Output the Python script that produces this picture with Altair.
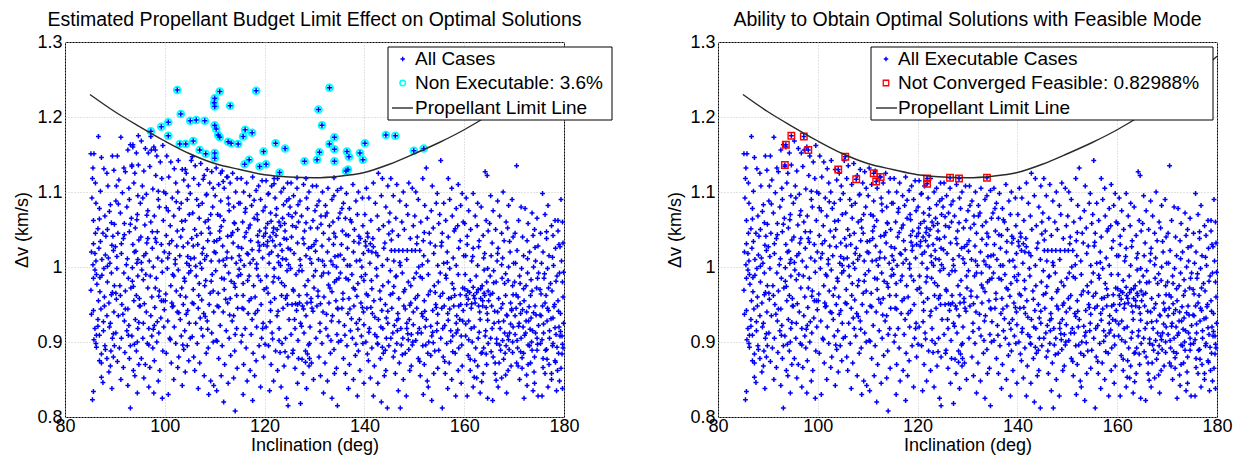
import altair as alt
import pandas as pd

# ---- data: flat lists of (inclination*10, dv*1000) pairs ----
S085 = [852,1151, 858,1151, 856,1132, 861,1112, 855,1118, 867,1174, 873,1146, 878,1131, 884,1125, 886,1108, 895,1148, 898,1129,
        854,1092, 862,1085, 869,1078, 871,1101, 880,1068, 889,1074, 893,1059, 857,1062, 866,1051, 876,1045, 885,1050, 896,1041,
        857,1031, 853,1020, 860,1018, 868,1025, 862,1008, 874,1010, 881,1016, 890,1005, 897,1022,
        860,996, 863,990, 857,985, 870,986, 878,998, 885,980, 893,992, 899,975,
        870,967, 867,955, 879,960, 888,952, 895,966, 857,942, 853,937, 872,944, 866,930, 884,935, 891,925, 898,940,
        860,918, 863,909, 869,909, 877,915, 889,920, 895,905,
        862,898, 863,893, 880,895, 881,890, 892,888, 899,895,
        869,875, 873,872, 884,878, 891,868, 897,880,
        873,853, 876,846, 888,860, 857,834, 855,823, 894,838]
S090 = [905,1148, 912,1173, 918,1132, 926,1156, 931,1163, 936,1160, 943,1152, 947,1136, 921,1127, 934,1134, 940,1125, 908,1116,
        903,1108, 915,1099, 928,1105, 938,1112, 946,1095, 902,1088, 911,1072, 924,1080, 933,1065, 945,1070, 919,1058, 941,1052,
        906,1045, 917,1038, 929,1047, 936,1030, 948,1036, 901,1027, 913,1018, 925,1011, 939,1020, 944,1005,
        904,998, 918,992, 927,985, 935,999, 946,988, 910,975, 921,968, 932,972, 943,962,
        903,957, 914,950, 926,944, 938,955, 949,948, 907,935, 919,928, 928,922, 941,930, 946,918,
        902,912, 913,905, 924,915, 934,908, 945,900, 909,892, 920,886, 931,895, 943,888,
        905,874, 917,866, 929,878, 937,862, 948,870, 912,850, 926,842, 940,855, 931,812, 945,832]
S095 = [953,1168, 961,1158, 967,1152, 973,1156, 978,1160, 984,1148, 991,1140, 996,1162, 958,1128, 970,1134, 982,1122, 994,1118,
        955,1108, 963,1097, 976,1104, 987,1090, 998,1100, 951,1085, 966,1075, 979,1068, 989,1080, 997,1062, 960,1056, 972,1060, 985,1047,
        952,1040, 964,1032, 975,1025, 981,1038, 993,1030, 958,1015, 969,1008, 986,1012, 999,1020,
        954,996, 962,990, 977,1000, 983,985, 995,993, 966,972, 974,960, 989,968, 997,955,
        951,948, 963,940, 972,935, 980,946, 992,932, 957,925, 968,918, 979,922, 988,912, 998,920,
        956,905, 965,898, 976,892, 984,900, 996,888,
        953,878, 961,870, 970,866, 979,875, 990,862, 958,852, 968,840, 978,832, 987,848, 995,825]
S100 = [1004,1148, 1012,1140, 1019,1131, 1027,1142, 1035,1130, 1043,1125, 1008,1120, 1022,1112, 1038,1116, 1047,1108,
        1002,1098, 1015,1092, 1026,1100, 1033,1085, 1045,1090, 1007,1075, 1018,1068, 1029,1078, 1041,1062, 1049,1070, 1011,1055, 1036,1050,
        1003,1042, 1014,1035, 1024,1028, 1032,1040, 1046,1032, 1009,1018, 1021,1010, 1030,1015, 1044,1005,
        1005,998, 1016,990, 1027,996, 1039,985, 1048,992, 1012,975, 1023,968, 1034,972, 1042,960,
        1001,955, 1017,948, 1025,940, 1037,950, 1046,942, 1006,928, 1019,920, 1031,930, 1040,915, 1049,925,
        1010,905, 1022,898, 1033,908, 1045,895, 1003,885, 1028,880, 1038,890,
        1013,872, 1026,866, 1041,860, 1048,875, 1018,850, 1035,842, 1007,830]
S105 = [1053,1142, 1061,1135, 1072,1138, 1085,1130, 1094,1127, 1058,1118, 1068,1110, 1079,1122, 1090,1112, 1097,1105,
        1051,1098, 1064,1090, 1075,1085, 1083,1096, 1096,1080, 1056,1072, 1069,1065, 1081,1060, 1092,1070, 1060,1050, 1073,1045, 1088,1052,
        1054,1038, 1066,1030, 1077,1025, 1086,1035, 1099,1020, 1059,1012, 1071,1005, 1084,1015, 1093,1008,
        1052,995, 1063,988, 1074,998, 1082,982, 1095,990, 1057,970, 1068,962, 1080,975, 1091,965,
        1055,952, 1067,945, 1078,938, 1089,950, 1098,940, 1062,925, 1073,918, 1085,928, 1094,912,
        1051,905, 1065,898, 1076,908, 1087,892, 1097,900, 1058,880, 1070,872, 1083,885,
        1060,862, 1079,855, 1092,848, 1067,838, 1088,830, 1098,842]
S110 = [1103,1132, 1115,1128, 1124,1120, 1136,1125, 1145,1118, 1108,1110, 1119,1105, 1131,1112, 1142,1100,
        1101,1095, 1112,1088, 1127,1092, 1138,1080, 1148,1085, 1106,1070, 1118,1062, 1129,1075, 1140,1058, 1110,1048, 1133,1042, 1146,1050,
        1104,1035, 1116,1028, 1125,1020, 1137,1032, 1149,1015, 1109,1008, 1121,1002, 1134,1012, 1143,1005,
        1102,995, 1114,985, 1128,992, 1139,978, 1147,988, 1107,965, 1119,970, 1131,958, 1144,962,
        1105,948, 1117,940, 1126,952, 1138,935, 1146,945, 1111,922, 1123,915, 1135,928, 1141,910,
        1103,902, 1115,895, 1129,905, 1140,888, 1108,878, 1120,870, 1132,882, 1145,865,
        1113,855, 1127,845, 1138,852, 1118,820, 1141,808, 1104,835]
S115 = [1153,1118, 1164,1112, 1176,1120, 1188,1108, 1195,1115, 1158,1100, 1170,1095, 1183,1102, 1192,1090,
        1151,1085, 1162,1078, 1174,1082, 1185,1070, 1197,1075, 1156,1060, 1168,1052, 1179,1065, 1190,1048, 1160,1040, 1172,1035, 1186,1042, 1198,1030,
        1154,1025, 1165,1018, 1177,1010, 1189,1022, 1196,1012, 1159,1002, 1171,1005, 1184,998,
        1152,990, 1166,982, 1178,975, 1187,988, 1199,970, 1157,962, 1169,955, 1181,960, 1193,950,
        1155,945, 1167,938, 1175,930, 1186,942, 1197,925, 1161,918, 1173,910, 1184,920, 1194,905,
        1153,900, 1163,892, 1177,885, 1189,895, 1198,880, 1158,870, 1171,862, 1183,875,
        1165,848, 1180,855, 1192,840, 1157,830, 1176,822]
S120 = [1203,1115, 1214,1108, 1226,1118, 1238,1105, 1246,1112, 1208,1098, 1221,1092, 1233,1100, 1244,1088,
        1201,1080, 1212,1072, 1224,1078, 1236,1065, 1248,1070, 1206,1058, 1218,1052, 1229,1060, 1241,1048,
        1202,1045, 1211,1040, 1216,1035, 1223,1042, 1231,1030, 1239,1038, 1247,1025, 1205,1028, 1214,1020, 1227,1015, 1235,1022, 1243,1010,
        1209,1005, 1219,998, 1232,1002, 1245,995, 1204,988, 1217,980, 1228,985, 1240,975,
        1207,965, 1220,958, 1234,962, 1246,950, 1212,942, 1225,935, 1237,945, 1249,930,
        1203,920, 1215,912, 1229,918, 1242,905, 1208,895, 1222,888, 1235,898, 1247,880,
        1213,870, 1226,862, 1239,868, 1218,848, 1233,840, 1244,825, 1210,835, 1247,815]
S125 = [1253,1112, 1265,1105, 1278,1110, 1289,1100, 1296,1108, 1258,1095, 1271,1088, 1284,1092,
        1251,1080, 1262,1072, 1274,1068, 1286,1078, 1297,1062, 1256,1055, 1268,1060, 1280,1048, 1292,1052,
        1254,1040, 1266,1032, 1277,1038, 1288,1025, 1299,1030, 1259,1018, 1271,1010, 1283,1015, 1294,1005,
        1252,998, 1263,990, 1275,995, 1287,982, 1298,988, 1257,970, 1269,962, 1281,975, 1293,958,
        1255,950, 1264,942, 1276,948, 1285,952, 1295,945, 1260,930, 1272,925, 1283,935, 1291,920,
        1253,910, 1267,902, 1279,912, 1290,898, 1256,885, 1268,878, 1282,888, 1294,872,
        1261,865, 1277,858, 1289,868, 1266,845, 1284,838, 1298,850, 1272,818]
S130 = [1304,1108, 1316,1100, 1327,1105, 1339,1095, 1346,1102, 1309,1088, 1322,1082, 1335,1090,
        1301,1075, 1313,1068, 1325,1072, 1337,1060, 1348,1065, 1306,1052, 1318,1045, 1330,1055, 1342,1040,
        1303,1035, 1315,1028, 1326,1020, 1338,1030, 1347,1015, 1308,1010, 1320,1002, 1333,1008, 1344,1000,
        1302,995, 1314,988, 1328,992, 1340,980, 1349,985, 1307,968, 1319,960, 1331,972, 1343,955,
        1305,948, 1317,940, 1329,952, 1336,935, 1346,945, 1311,925, 1323,918, 1334,928, 1345,910,
        1303,905, 1315,898, 1327,908, 1339,890, 1348,900, 1309,880, 1321,872, 1332,885, 1344,865,
        1312,855, 1326,848, 1340,858, 1318,832, 1335,825, 1346,815]
S135 = [1353,1105, 1364,1098, 1377,1110, 1388,1100, 1396,1092, 1358,1085, 1370,1078, 1383,1088,
        1351,1072, 1362,1065, 1374,1060, 1386,1070, 1397,1055, 1356,1048, 1368,1042, 1380,1050, 1392,1038,
        1354,1030, 1366,1025, 1378,1020, 1389,1032, 1398,1018, 1359,1010, 1371,1002, 1384,1008, 1395,1000,
        1352,992, 1363,985, 1375,990, 1387,978, 1399,982, 1357,965, 1369,958, 1381,970, 1393,952,
        1355,945, 1367,938, 1379,948, 1390,930, 1398,940, 1360,922, 1372,915, 1384,925, 1394,908,
        1353,902, 1365,895, 1376,905, 1388,888, 1397,898, 1358,878, 1370,870, 1382,882,
        1362,858, 1378,850, 1391,862, 1368,838, 1386,828, 1399,845]
S140 = [1404,1105, 1418,1112, 1428,1125, 1436,1118, 1447,1108, 1409,1092, 1422,1085, 1434,1095, 1443,1080,
        1401,1070, 1413,1062, 1426,1068, 1438,1055, 1449,1060, 1406,1045, 1417,1038, 1429,1050, 1441,1032,
        1403,1028, 1408,1022, 1415,1020, 1427,1015, 1439,1025, 1446,1010, 1411,1005, 1424,998, 1436,1002,
        1402,990, 1414,982, 1425,988, 1437,975, 1448,980, 1407,962, 1419,955, 1431,968, 1442,950,
        1405,945, 1416,938, 1428,930, 1435,942, 1447,925, 1410,918, 1421,910, 1433,920, 1444,905,
        1403,900, 1415,892, 1426,898, 1438,885, 1449,895, 1408,875, 1420,868, 1432,878, 1443,862,
        1412,852, 1427,845, 1440,855, 1418,828, 1434,820, 1446,812]
S145 = [1453,1118, 1465,1110, 1478,1100, 1489,1112, 1496,1105, 1458,1095, 1471,1088, 1484,1082,
        1451,1072, 1463,1065, 1475,1060, 1487,1070, 1498,1055, 1456,1048, 1468,1042, 1480,1050, 1492,1038,
        1454,1022, 1461,1022, 1469,1022, 1477,1022, 1486,1022, 1495,1022, 1459,1008, 1472,1002, 1485,1010,
        1452,995, 1464,988, 1476,992, 1488,980, 1499,985, 1457,965, 1469,958, 1481,970, 1493,952,
        1455,945, 1467,938, 1479,948, 1490,930, 1498,940, 1460,922, 1466,915, 1473,918, 1485,925, 1494,910,
        1453,905, 1465,898, 1477,905, 1489,890, 1497,900, 1458,880, 1470,872, 1482,885, 1494,868,
        1462,858, 1478,850, 1491,862, 1468,835, 1484,828, 1472,812]
S150 = [1503,1100, 1517,1118, 1524,1132, 1536,1108, 1546,1098, 1508,1090, 1521,1082, 1534,1075, 1544,1085,
        1501,1068, 1513,1060, 1526,1065, 1538,1052, 1549,1058, 1506,1040, 1518,1035, 1530,1045, 1542,1028,
        1502,1022, 1511,1022, 1519,1015, 1527,1008, 1539,1018, 1547,1002, 1509,1000,
        1504,992, 1516,985, 1528,990, 1540,975, 1548,980, 1507,962, 1520,955, 1532,968, 1543,950,
        1505,945, 1515,938, 1524,930, 1537,942, 1546,925, 1510,918, 1514,912, 1522,920, 1535,908, 1545,915,
        1503,902, 1517,895, 1529,900, 1541,888, 1508,878, 1520,870, 1533,882, 1547,865,
        1512,855, 1526,848, 1539,858, 1518,830, 1535,822, 1528,840]
S155 = [1553,1142, 1568,1118, 1575,1105, 1588,1110, 1596,1098, 1559,1085, 1571,1090, 1584,1078, 1593,1082,
        1551,1070, 1563,1062, 1576,1068, 1587,1055, 1598,1060, 1556,1045, 1568,1040, 1580,1048, 1592,1035,
        1554,1028, 1566,1020, 1578,1012, 1589,1025, 1599,1015, 1559,1005, 1571,998, 1584,1002,
        1552,992, 1564,985, 1576,978, 1588,990, 1597,972, 1557,965, 1569,958, 1581,962, 1593,950,
        1555,945, 1567,938, 1579,948, 1585,935, 1591,930, 1598,942, 1561,922, 1573,915, 1584,925, 1594,908,
        1553,905, 1565,898, 1577,908, 1589,892, 1558,880, 1570,872, 1582,885, 1596,868,
        1562,858, 1575,850, 1588,862, 1567,838, 1583,828, 1556,812, 1594,845]
S160 = [1604,1092, 1618,1098, 1627,1085, 1642,1127, 1646,1122, 1609,1075, 1622,1068, 1634,1080, 1644,1062,
        1601,1058, 1613,1050, 1626,1055, 1638,1042, 1648,1048, 1606,1030, 1618,1025, 1630,1035, 1641,1018,
        1603,1015, 1615,1008, 1627,1002, 1639,1012, 1647,998,
        1602,990, 1612,982, 1624,988, 1636,975, 1645,980, 1607,968, 1619,962, 1628,970, 1633,958, 1640,965, 1649,955,
        1605,950, 1614,945, 1622,952, 1631,940, 1637,948, 1646,938, 1609,928, 1620,920, 1632,930, 1643,915,
        1603,908, 1616,900, 1628,905, 1639,892, 1648,898, 1608,882, 1621,875, 1634,885, 1645,870,
        1612,862, 1625,852, 1638,858, 1618,840, 1632,832, 1647,825, 1606,828]
S165 = [1653,1095, 1667,1088, 1678,1100, 1689,1082, 1696,1090, 1658,1075, 1671,1068, 1684,1060,
        1651,1058, 1663,1050, 1675,1045, 1687,1052, 1698,1040, 1656,1032, 1668,1025, 1680,1035, 1692,1020,
        1654,1015, 1666,1008, 1677,1012, 1689,1000, 1699,1005, 1659,995,
        1652,988, 1664,980, 1676,985, 1681,978, 1688,982, 1697,975, 1657,965, 1669,958, 1683,962, 1693,952,
        1655,948, 1667,940, 1674,945, 1686,935, 1695,942, 1660,925, 1672,918, 1679,928, 1691,912, 1698,920,
        1653,905, 1665,898, 1677,902, 1684,895, 1690,890, 1697,900, 1658,880, 1670,872, 1682,885, 1694,868,
        1662,858, 1675,852, 1688,862, 1668,840, 1685,832, 1657,822]
S170 = [1705,1135, 1714,1080, 1722,1078, 1736,1072, 1746,1065, 1709,1062, 1728,1058, 1741,1050,
        1702,1045, 1717,1040, 1726,1035, 1738,1042, 1748,1028, 1706,1022, 1719,1015, 1731,1020, 1743,1008,
        1703,1005, 1715,998, 1727,992, 1739,1000, 1747,985,
        1701,980, 1712,978, 1724,975, 1736,968, 1745,972, 1708,960, 1720,955, 1733,962, 1742,948,
        1704,945, 1713,938, 1725,940, 1734,932, 1744,936, 1710,925, 1718,920, 1729,928, 1737,915, 1749,922,
        1702,910, 1714,905, 1723,912, 1735,900, 1746,905, 1707,892, 1719,885, 1731,895, 1741,880,
        1705,872, 1716,865, 1728,870, 1740,860, 1711,850, 1726,842, 1738,835, 1748,828, 1720,825]
S175 = [1757,1098, 1768,1082, 1782,1062, 1794,1090, 1797,1060, 1762,1070, 1775,1055, 1788,1048,
        1753,1045, 1765,1038, 1778,1042, 1790,1030, 1798,1032, 1758,1020, 1770,1015, 1783,1025, 1795,1008,
        1755,1005, 1767,998, 1779,1002, 1791,992, 1760,985, 1773,978, 1786,988, 1797,980,
        1752,970, 1764,962, 1776,968, 1788,955, 1798,960, 1757,948, 1769,942, 1781,950, 1793,938,
        1754,935, 1766,928, 1778,932, 1790,920, 1799,925, 1759,912, 1771,905, 1784,910, 1796,908, 1792,908,
        1753,898, 1765,890, 1777,895, 1789,885, 1798,892, 1758,878, 1770,870, 1782,875, 1794,865,
        1762,858, 1775,850, 1787,862, 1768,840, 1785,835, 1797,838, 1756,828]

# further cases seen in the denser middle band
EXTRA_A = [856,1003, 864,977, 871,1034, 879,948, 887,1012, 893,963, 899,1057, 858,903, 866,921, 874,989, 882,1041, 891,1083, 897,911, 852,969, 869,1064, 877,927, 885,1001, 894,1029, 861,1045, 873,884,
           904,1014, 911,962, 919,1043, 927,909, 935,981, 942,1021, 949,958, 907,1084, 916,937, 923,1003, 931,1057, 939,897, 946,1010, 902,965, 913,1031, 921,944, 929,1090, 937,974, 944,1063, 948,926,
           953,1006, 959,951, 964,1069, 971,988, 977,917, 983,1033, 988,961, 994,1008, 999,943, 956,1092, 962,1018, 968,896, 975,1047, 981,972, 987,1101, 993,955, 957,983, 966,1038, 974,908, 985,927,
           1002,964, 1009,1031, 1015,947, 1021,1004, 1028,939, 1034,1061, 1040,981, 1046,1014, 1003,1079, 1011,903, 1018,988, 1025,1048, 1031,962, 1037,1027, 1043,937, 1049,1002, 1006,1012, 1014,952, 1023,1087, 1036,896,
           1052,1011, 1058,951, 1064,1042, 1069,978, 1075,1018, 1081,934, 1087,1063, 1093,981, 1099,1034, 1055,907, 1062,1001, 1068,1082, 1074,956, 1080,1010, 1086,917, 1091,1045, 1097,968, 1057,1028, 1071,932, 1084,1097,
           1102,1019, 1108,947, 1113,1054, 1119,984, 1124,1012, 1130,936, 1136,1046, 1141,973, 1147,1027, 1105,901, 1111,1068, 1117,1009, 1122,957, 1128,1084, 1133,981, 1139,1059, 1144,918, 1149,997, 1110,1038, 1126,1041,
           1152,1009, 1158,944, 1163,1046, 1169,988, 1175,1023, 1181,938, 1186,1063, 1192,982, 1198,1041, 1155,909, 1161,1073, 1167,1017, 1173,958, 1179,1089, 1184,1004, 1190,1028, 1196,918, 1157,978, 1171,1056, 1187,1033]
EXTRA_B = [1202,1052, 1206,1034, 1209,1017, 1213,1061, 1217,1046, 1221,1028, 1225,1050, 1228,1006, 1232,1055, 1236,1011, 1240,1058, 1244,1037, 1248,1003, 1204,972, 1212,953, 1219,987, 1227,941, 1234,979, 1242,958, 1249,1091,
           1201,897, 1216,904, 1231,886, 1238,1083, 1207,1097, 1223,1069, 1245,962, 1211,927, 1229,902, 1241,887,
           1252,1023, 1258,968, 1263,1053, 1269,995, 1274,921, 1279,1031, 1285,963, 1291,1011, 1297,941, 1255,1067, 1261,918, 1267,1083, 1272,1002, 1278,944, 1283,1059, 1288,896, 1294,1027, 1299,972, 1257,889, 1275,877,
           1282,873, 1286,884, 1290,878, 1270,952, 1293,953, 1262,951, 1266,950,
           1302,1021, 1307,961, 1313,1057, 1318,992, 1324,937, 1329,1037, 1335,967, 1341,1014, 1347,944, 1305,1082, 1311,914, 1316,1008, 1322,1068, 1328,976, 1333,902, 1339,1045, 1344,983, 1349,927, 1312,951, 1337,1003,
           1352,1016, 1357,957, 1363,1043, 1368,983, 1374,931, 1379,1034, 1385,961, 1391,1009, 1396,946, 1355,1078, 1361,909, 1366,1002, 1372,1063, 1378,972, 1383,897, 1389,1041, 1394,987, 1399,923, 1371,944, 1387,917,
           1402,1034, 1407,1040, 1412,1031, 1418,1027, 1423,1019, 1404,964, 1409,913, 1415,971, 1421,933, 1427,897, 1432,957, 1437,918, 1442,889, 1447,941, 1406,884, 1413,946, 1425,907, 1436,893, 1444,932, 1449,1044,
           1452,963, 1457,912, 1463,987, 1468,931, 1474,896, 1479,967, 1485,918, 1491,949, 1496,896, 1454,1036, 1459,974, 1465,929, 1471,1006, 1476,883, 1482,944, 1487,911, 1493,975, 1498,923, 1461,888, 1488,903]
EXTRA_C = [1502,958, 1507,912, 1512,987, 1517,934, 1523,896, 1528,963, 1533,921, 1538,899, 1544,946, 1549,889, 1505,1031, 1511,874, 1516,1003, 1521,941, 1527,885, 1532,1032, 1537,913, 1542,966, 1547,937, 1520,1046,
           1552,961, 1557,918, 1563,989, 1568,929, 1573,901, 1579,971, 1584,912, 1589,948, 1595,896, 1555,1033, 1561,874, 1566,1006, 1571,944, 1577,887, 1582,1051, 1587,916, 1592,963, 1597,928, 1560,948, 1574,959,
           1601,971, 1604,962, 1608,957, 1611,966, 1615,951, 1618,973, 1621,958, 1625,966, 1629,948, 1633,971, 1637,955, 1641,962, 1644,946, 1648,968, 1603,924, 1609,903, 1614,918, 1623,892, 1630,913, 1636,886, 1642,908, 1647,929, 1606,1041, 1617,1014, 1629,1027, 1640,996, 1612,877, 1627,868, 1644,884, 1620,853, 1635,847,
           1652,963, 1656,918, 1661,941, 1665,904, 1669,927, 1673,889, 1677,951, 1681,912, 1685,936, 1689,903, 1693,924, 1697,886, 1654,887, 1662,872, 1671,896, 1679,877, 1687,908, 1695,944, 1659,979, 1667,1018, 1675,1003, 1683,991, 1691,1034, 1664,849, 1683,856, 1698,963,
           1702,935, 1706,902, 1709,921, 1713,887, 1717,943, 1721,909, 1724,928, 1728,896, 1732,917, 1736,889, 1739,939, 1743,912, 1747,897, 1704,963, 1711,988, 1719,971, 1727,1011, 1734,983, 1742,1026, 1749,992, 1708,868, 1716,879, 1725,856, 1733,872, 1741,845, 1746,889, 1712,951, 1730,947,
           1752,936, 1756,903, 1759,924, 1763,889, 1767,945, 1771,915, 1774,931, 1778,898, 1782,919, 1786,893, 1789,941, 1793,914, 1797,897, 1754,964, 1761,991, 1769,972, 1777,1013, 1784,981, 1792,1027, 1799,993, 1758,866, 1766,877, 1775,858, 1783,873, 1791,848, 1796,884, 1762,952, 1780,947, 1788,1062, 1765,1047]

# non-executable cases (left panel, cyan circles)
CYAN = [1025,1236, 1110,1234, 1100,1225, 1099,1219, 1100,1214, 1131,1215, 1183,1235, 1330,1239, 1308,1210, 1315,1189,
        1032,1204, 1051,1195, 1063,1196, 1080,1195, 993,1187, 1007,1193, 972,1181, 1007,1175, 1030,1164, 1042,1164,
        1057,1168, 1100,1189, 1103,1184, 1107,1176, 1110,1173, 1127,1167, 1133,1165, 1147,1164, 1157,1174, 1161,1183,
        1175,1179, 1070,1156, 1082,1151, 1100,1152, 1100,1145, 1160,1137, 1169,1143, 1190,1134, 1203,1137, 1198,1154,
        1222,1165, 1241,1158, 1230,1126, 1280,1141, 1305,1143, 1310,1153, 1330,1164, 1340,1173, 1340,1157, 1340,1141,
        1365,1154, 1369,1147, 1391,1152, 1397,1143, 1367,1130, 1363,1128, 1401,1165, 1443,1176, 1462,1175, 1499,1155,
        1519,1158]

# not converged feasible cases (right panel, red squares)
RED = [947,1175, 972,1174, 936,1163, 981,1156, 934,1136, 1055,1147, 1041,1130, 1077,1117, 1112,1125, 1117,1114,
       1126,1120, 1219,1118, 1219,1111, 1265,1119, 1283,1118, 1339,1119]

# propellant limit line
LINE_X = [85, 90, 95, 100, 105, 110, 115, 120, 125, 130, 135, 140, 145, 150, 155, 160, 165, 170, 175, 180]
LINE_Y = [1.230, 1.207, 1.187, 1.168, 1.151, 1.138, 1.130, 1.123, 1.120, 1.119, 1.121, 1.126, 1.137, 1.151,
          1.166, 1.183, 1.203, 1.226, 1.252, 1.281]

STRIPS = [S085, S090, S095, S100, S105, S110, S115, S120, S125, S130, S135, S140, S145, S150, S155, S160, S165,
          S170, S175, EXTRA_A, EXTRA_B, EXTRA_C]


def pairs(flat):
    return [(flat[i] / 10.0, flat[i + 1] / 1000.0) for i in range(0, len(flat) - 1, 2)]


exec_pts = []
for s in STRIPS:
    exec_pts += pairs(s)
exec_pts += pairs(RED)
exec_df = pd.DataFrame(exec_pts, columns=["inc", "dv"])
cyan_df = pd.DataFrame(pairs(CYAN), columns=["inc", "dv"])
all_df = pd.concat([exec_df, cyan_df], ignore_index=True)
red_df = pd.DataFrame(pairs(RED), columns=["inc", "dv"])
line_df = pd.DataFrame({"inc": LINE_X, "dv": LINE_Y})

FONT = "Liberation Sans"
FS = 18
LFS = 19
W, H = 499, 375
CROSS = "M-1,0H1M0,-1V1"
BLUE = "#0000ff"
MS = 24
MW = 1.5

xs = alt.Scale(domain=[80, 180], nice=False, zero=False)
ys = alt.Scale(domain=[0.8, 1.3], nice=False, zero=False)
xax = alt.Axis(values=[80, 100, 120, 140, 160, 180], title="Inclination (deg)", labelPadding=0,
               titleX=W / 2, titleY=33, titleBaseline="alphabetic", titleAlign="center")
yax = alt.Axis(values=[0.8, 0.9, 1.0, 1.1, 1.2, 1.3], title="Δv (km/s)", labelPadding=3,
               labelExpr="datum.value == 1 ? '1' : format(datum.value, '.1f')",
               titleX=-38, titleY=H / 2, titleBaseline="alphabetic", titleAlign="center")
X = alt.X("inc:Q", scale=xs, axis=xax)
Y = alt.Y("dv:Q", scale=ys, axis=yax)

one = pd.DataFrame({"k": [0]})


def crosses(df):
    return alt.Chart(df).mark_point(shape=CROSS, filled=False, size=MS, strokeWidth=MW,
                                    color=BLUE, opacity=1).encode(x=X, y=Y)


def limit_line():
    return alt.Chart(line_df).mark_line(color="#2a2a2a", strokeWidth=1.4, interpolate="monotone").encode(x=X, y=Y)


def legend(x0, x1, sx, lx0, lx1, tx, labels, second):
    rows = [17, 41, 66]
    box = alt.Chart(one).mark_rect(fill="white", stroke="#000000", strokeWidth=1).encode(
        x=alt.value(x0), x2=alt.value(x1), y=alt.value(5), y2=alt.value(78))
    s1 = alt.Chart(one).mark_point(shape=CROSS, filled=False, size=20, strokeWidth=1.4, color=BLUE,
                                   opacity=1).encode(x=alt.value(sx), y=alt.value(rows[0]))
    if second == "cyan":
        s2 = alt.Chart(one).mark_point(shape="circle", filled=False, size=30, strokeWidth=1.5,
                                       color="#00ffff", opacity=1).encode(x=alt.value(sx), y=alt.value(rows[1]))
    else:
        s2 = alt.Chart(one).mark_point(shape="square", filled=False, size=30, strokeWidth=1.3,
                                       color="#ff0000", opacity=1).encode(x=alt.value(sx), y=alt.value(rows[1]))
    ln = alt.Chart(one).mark_rule(color="#2a2a2a", strokeWidth=1.4).encode(
        x=alt.value(lx0), x2=alt.value(lx1), y=alt.value(rows[2]))
    texts = [alt.Chart(one).mark_text(align="left", baseline="middle", font=FONT, fontSize=LFS,
                                      color="#000000").encode(x=alt.value(tx), y=alt.value(r),
                                                              text=alt.value(t))
             for t, r in zip(labels, rows)]
    return [box, s1, s2, ln] + texts


def title(t):
    return alt.TitleParams(t, font=FONT, fontSize=19.5, fontWeight="normal", color="#000000",
                           anchor="middle", baseline="alphabetic", offset=-12)


cyan_layer = alt.Chart(cyan_df).mark_point(shape="circle", filled=False, size=45, strokeWidth=2,
                                           color="#00ffff", opacity=1).encode(x=X, y=Y)
red_layer = alt.Chart(red_df).mark_point(shape="square", filled=False, size=42, strokeWidth=1.4,
                                         color="#ff0000", opacity=1).encode(x=X, y=Y)

left = alt.layer(
    cyan_layer, crosses(all_df), limit_line(),
    *legend(323, 547, 337.7, 327, 348, 350,
            ["All Cases", "Non Executable: 3.6%", "Propellant Limit Line"], "cyan")
).properties(width=W, height=H, title=title("Estimated Propellant Budget Limit Effect on Optimal Solutions"))

right = alt.layer(
    crosses(exec_df), red_layer, limit_line(),
    *legend(153, 495, 168, 158, 179, 180,
            ["All Executable Cases", "Not Converged Feasible: 0.82988%", "Propellant Limit Line"], "red")
).properties(width=W, height=H, title=title("Ability to Obtain Optimal Solutions with Feasible Mode"))

chart = alt.hconcat(left, right, spacing=154).properties(
    bounds="flush",
    autosize=alt.AutoSizeParams(type="pad"),
    padding={"left": 4, "top": 1, "right": 0, "bottom": 0},
).configure_view(stroke="#000000", strokeWidth=1).configure_axis(
    grid=True, gridColor="#c4c4c4", gridDash=[1, 2], gridWidth=1, domain=False, ticks=False, tickSize=0,
    labelFont=FONT, labelFontSize=FS, labelColor="#000000", labelFlush=False, labelOverlap=False,
    titleFont=FONT, titleFontSize=FS, titleFontWeight="normal", titleColor="#000000"
)

chart.save("out.html", embed_options={"renderer": "svg", "actions": False})
